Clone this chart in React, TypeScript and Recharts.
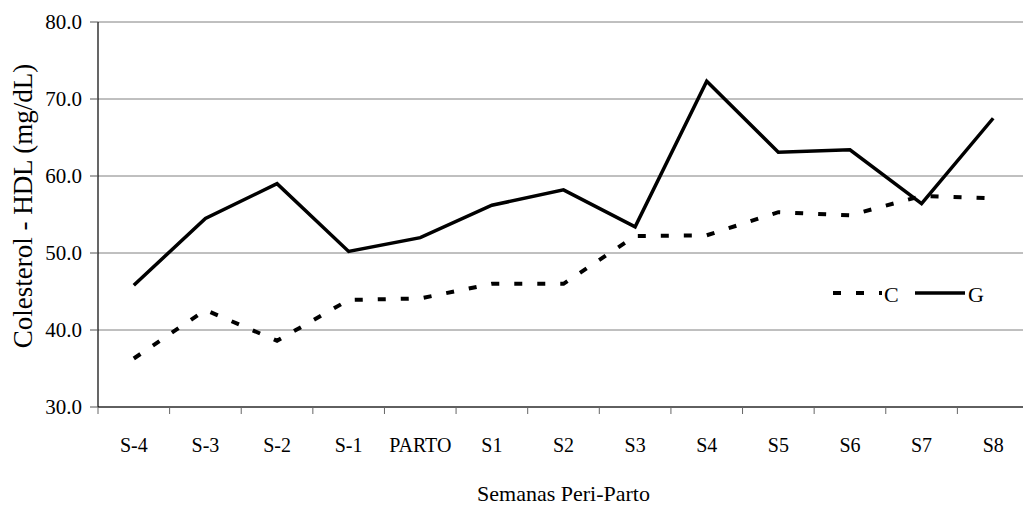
import React from 'react';
import { ComposedChart, Line, XAxis, YAxis, CartesianGrid, Legend } from 'recharts';

const weeks = ['S-4', 'S-3', 'S-2', 'S-1', 'PARTO', 'S1', 'S2', 'S3', 'S4', 'S5', 'S6', 'S7', 'S8'];
const serieC = [36.3, 42.6, 38.6, 43.9, 44.1, 46.0, 46.0, 52.2, 52.3, 55.3, 54.9, 57.4, 57.1];
const serieG = [45.8, 54.5, 59.0, 50.2, 52.0, 56.2, 58.2, 53.4, 72.3, 63.1, 63.4, 56.4, 67.5];
const yTicks = [30, 40, 50, 60, 70, 80];

const data = weeks.map((w, i) => ({ week: w, C: serieC[i], G: serieG[i] }));

const FONT = '"Liberation Serif", "Times New Roman", serif';

// category label plus a tick mark on the left edge of each band
function WeekTick(props: any) {
  const { x, y, payload } = props;
  const half = payload && payload.offset ? payload.offset : 35.8;
  return (
    <g>
      <line x1={x - half} x2={x - half} y1={y} y2={y + 7} stroke="#666" strokeWidth={1} />
      <text x={x} y={y + 45} textAnchor="middle" fontSize={20} fontFamily={FONT} fill="#000">
        {payload.value}
      </text>
    </g>
  );
}

function LegendBox() {
  return (
    <svg width={170} height={30} style={{ display: 'block' }}>
      <line x1={3} x2={52} y1={13} y2={13} stroke="#000" strokeWidth={4} strokeDasharray="8 15" />
      <text x={54} y={22} fontSize={22} fontFamily={FONT} fill="#000">C</text>
      <line x1={85} x2={135} y1={13} y2={13} stroke="#000" strokeWidth={3.5} />
      <text x={138} y={22} fontSize={22} fontFamily={FONT} fill="#000">G</text>
    </svg>
  );
}

export default function App() {
  return (
    <div style={{ position: 'absolute', left: 0, top: 0, width: 1023, height: 507, overflow: 'hidden', background: '#fff' }}>
      <ComposedChart width={1040} height={507} data={data} margin={{ top: 22, right: 11, bottom: 0, left: 0 }}>
        <CartesianGrid vertical={false} stroke="#808080" strokeWidth={1} />
        <XAxis
          dataKey="week"
          scale="band"
          height={100}
          axisLine={{ stroke: '#000', strokeWidth: 1.2 }}
          tickLine={false}
          tickSize={0}
          tickMargin={0}
          interval={0}
          tick={<WeekTick />}
          label={{
            content: (p: any) => {
              const vb = p.viewBox || { x: 98, width: 931 };
              return (
                <text x={vb.x + vb.width / 2} y={501} textAnchor="middle" fontSize={22} fontFamily={FONT} fill="#000">
                  Semanas Peri-Parto
                </text>
              );
            },
          }}
        />
        <YAxis
          width={98}
          domain={[30, 80]}
          ticks={yTicks}
          interval={0}
          tickFormatter={(v: number) => v.toFixed(1)}
          axisLine={{ stroke: '#000', strokeWidth: 1.2 }}
          tickLine={{ stroke: '#555' }}
          tickSize={8}
          tickMargin={8}
          tick={{ fontSize: 21, fontFamily: FONT, fill: '#000' }}
          label={{
            content: () => (
              <text x={32} y={206} transform="rotate(-90, 32, 206)" textAnchor="middle" fontSize={27} fontFamily={FONT} fill="#000">
                Colesterol - HDL (mg/dL)
              </text>
            ),
          }}
        />
        <Legend
          layout="horizontal"
          verticalAlign="middle"
          align="center"
          content={() => <LegendBox />}
          wrapperStyle={{ left: 830, top: 280, width: 170 }}
        />
        <Line
          type="linear"
          dataKey="C"
          stroke="#000"
          strokeWidth={4}
          strokeDasharray="8 15"
          dot={false}
          activeDot={false}
          isAnimationActive={false}
        />
        <Line
          type="linear"
          dataKey="G"
          stroke="#000"
          strokeWidth={3.5}
          dot={false}
          activeDot={false}
          isAnimationActive={false}
        />
      </ComposedChart>
    </div>
  );
}
